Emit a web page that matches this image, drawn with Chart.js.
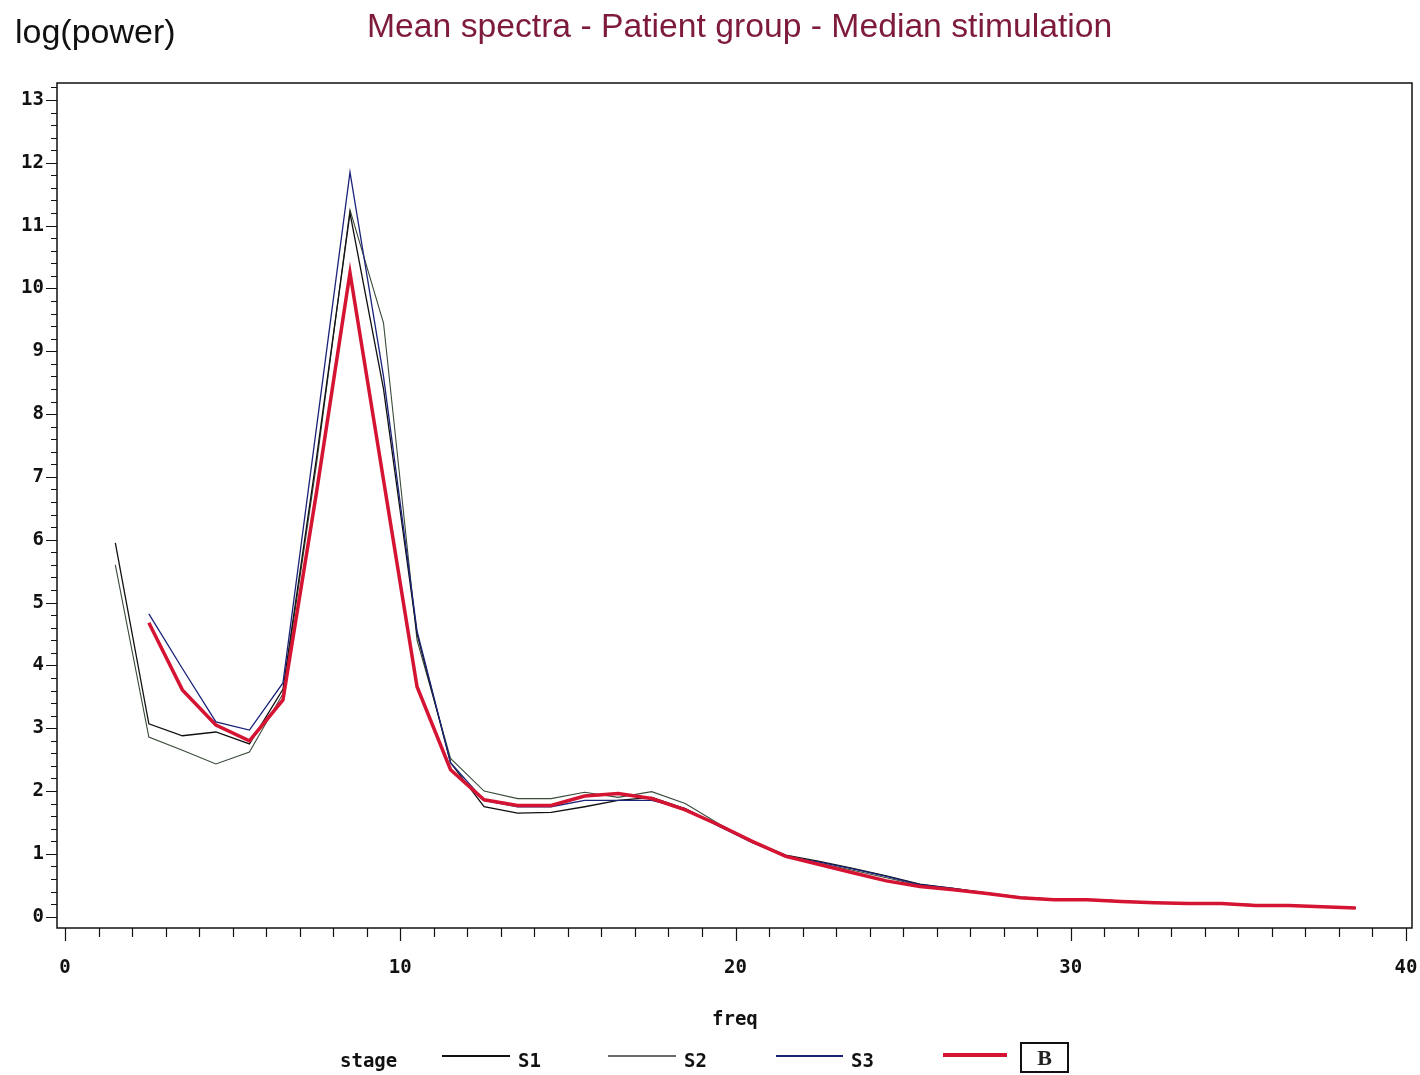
<!DOCTYPE html>
<html>
<head>
<meta charset="utf-8">
<style>
  body { margin: 0; background: #fff; }
  #wrap { position: relative; width: 1420px; height: 1075px; overflow: hidden; }
  #myChart { position: absolute; left: 0; top: 0; }
  .txt { position: absolute; white-space: nowrap; }
  #title { left: 367px; top: 6px; font: 33.7px "Liberation Sans", Arial, sans-serif; color: #7e1a3a; }
  #ylab { left: 15px; top: 12px; font: 34px "Liberation Sans", Arial, sans-serif; color: #111; }
  .sas { font: bold 19px "DejaVu Sans Mono", monospace; color: #111; }
  .leg-line { position: absolute; }
  #bbox { position: absolute; left: 1020px; top: 1042px; width: 45px; height: 27px; border: 2px solid #111;
          font: bold 22px "Liberation Serif", serif; text-align: center; line-height: 27px; color: #222; }
</style>
</head>
<body>
<div id="wrap">
  <canvas id="myChart" width="1420" height="1075"></canvas>
  <div id="title" class="txt">Mean spectra - Patient group - Median stimulation</div>
  <div id="ylab" class="txt">log(power)</div>
  <div class="txt sas" style="left:712px;top:1007px">freq</div>
  <div class="txt sas" style="left:340px;top:1049px">stage</div>
  <div class="leg-line" style="left:442px;top:1055px;width:68px;height:2px;background:#111"></div>
  <div class="txt sas" style="left:518px;top:1049px">S1</div>
  <div class="leg-line" style="left:608px;top:1055px;width:68px;height:2px;background:#6a6a6a"></div>
  <div class="txt sas" style="left:684px;top:1049px">S2</div>
  <div class="leg-line" style="left:776px;top:1055px;width:67px;height:2px;background:#1a2370"></div>
  <div class="txt sas" style="left:851px;top:1049px">S3</div>
  <div class="leg-line" style="left:943px;top:1053px;width:64px;height:4px;background:#d41432"></div>
  <div id="bbox">B</div>
</div>

<script src="https://cdn.jsdelivr.net/npm/chart.js@4.4.0/dist/chart.umd.min.js"></script>
<script>

    // frequency bins (Hz)
    const freq = [1.5, 2.5, 3.5, 4.5, 5.5, 6.5, 7.5, 8.5, 9.5, 10.5, 11.5, 12.5, 13.5, 14.5, 15.5, 16.5, 17.5, 18.5, 19.5,
                  20.5, 21.5, 22.5, 23.5, 24.5, 25.5, 26.5, 27.5, 28.5, 29.5, 30.5, 31.5, 32.5, 33.5, 34.5, 35.5, 36.5, 37.5, 38.5];

    const s1 = [5.95, 3.07, 2.88, 2.94, 2.75, 3.62, 7.3, 11.2, 8.4, 4.5, 2.45, 1.75, 1.65, 1.66, 1.75, 1.85, 1.9, 1.72, 1.45,
                1.2, 0.98, 0.88, 0.77, 0.65, 0.52, 0.45, 0.38, 0.31, 0.28, 0.27, 0.25, 0.22, 0.21, 0.21, 0.18, 0.18, 0.16, 0.14];

    const s2 = [5.6, 2.86, 2.65, 2.43, 2.62, 3.55, 7.2, 11.25, 9.45, 4.4, 2.52, 2.0, 1.88, 1.88, 1.98, 1.9, 1.99, 1.8, 1.48,
                1.2, 0.97, 0.85, 0.74, 0.62, 0.5, 0.44, 0.37, 0.31, 0.27, 0.26, 0.24, 0.22, 0.21, 0.2, 0.18, 0.18, 0.16, 0.14];

    const s3 = [null, 4.82, 3.95, 3.1, 2.97, 3.72, 7.78, 11.85, 8.6, 4.55, 2.45, 1.85, 1.75, 1.75, 1.85, 1.85, 1.85, 1.72, 1.44,
                1.18, 0.96, 0.87, 0.76, 0.64, 0.51, 0.45, 0.37, 0.3, 0.27, 0.27, 0.25, 0.22, 0.21, 0.21, 0.19, 0.18, 0.16, 0.14];

    const b = [null, 4.68, 3.61, 3.05, 2.8, 3.45, 6.75, 10.25, 6.95, 3.66, 2.34, 1.86, 1.77, 1.77, 1.92, 1.96, 1.88, 1.7, 1.46,
               1.2, 0.96, 0.83, 0.7, 0.57, 0.48, 0.43, 0.37, 0.3, 0.27, 0.27, 0.24, 0.22, 0.21, 0.21, 0.18, 0.18, 0.16, 0.14];

    const xTickLabels = [0, 10, 20, 30, 40];
    const yTickLabels = [0, 1, 2, 3, 4, 5, 6, 7, 8, 9, 10, 11, 12, 13];

    function pts(arr) {
        return freq.map((f, i) => ({ x: f, y: arr[i] }));
    }

    function isInt(v) {
        return Math.abs(v - Math.round(v)) < 1e-6;
    }

    // box around the plot + major/minor tick marks
    const frameTicks = {
        id: 'frameTicks',
        afterDraw: (chart) => {
            const {ctx, chartArea, scales} = chart;
            ctx.save();
            ctx.strokeStyle = '#111';
            ctx.lineWidth = 1.5;
            ctx.strokeRect(chartArea.left, chartArea.top, chartArea.right - chartArea.left, chartArea.bottom - chartArea.top);
            ctx.lineWidth = 1.2;
            ctx.beginPath();
            for (let t of scales.y.ticks) {
                const py = Math.round(scales.y.getPixelForValue(t.value)) + 0.5;
                const len = isInt(t.value) ? 11 : 6;
                ctx.moveTo(chartArea.left - len, py);
                ctx.lineTo(chartArea.left, py);
            }
            for (let t of scales.x.ticks) {
                const px = Math.round(scales.x.getPixelForValue(t.value)) + 0.5;
                const len = isInt(t.value / 10) ? 13 : 9;
                ctx.moveTo(px, chartArea.bottom);
                ctx.lineTo(px, chartArea.bottom + len);
            }
            ctx.stroke();
            ctx.restore();
        }
    };

    const tickFont = { family: '"DejaVu Sans Mono", monospace', size: 19, weight: 'bold' };

    const chart = new Chart(document.getElementById('myChart'), {
        type: 'line',
        plugins: [frameTicks],
        data: {
            datasets: [
                { label: 'S1', data: pts(s1), borderColor: '#111111', borderWidth: 1.3, order: 3 },
                { label: 'S2', data: pts(s2), borderColor: '#3a4a3a', borderWidth: 1.1, order: 4 },
                { label: 'S3', data: pts(s3), borderColor: '#1a2378', borderWidth: 1.3, order: 2 },
                { label: 'B', data: pts(b), borderColor: '#d41432', borderWidth: 3.5, order: 1 }
            ]
        },
        options: {
            responsive: false,
            animation: false,
            devicePixelRatio: 1,
            elements: {
                point: { radius: 0 },
                line: { tension: 0 }
            },
            layout: {
                autoPadding: false,
                padding: { left: 0, right: 8, top: 83, bottom: 0 }
            },
            plugins: {
                legend: { display: false },
                tooltip: { enabled: false }
            },
            scales: {
                x: {
                    type: 'linear',
                    min: -0.24,
                    max: 40.18,
                    grid: { display: false, drawTicks: false },
                    border: { display: false },
                    afterFit: (scale) => {
                        scale.height = 147;
                        scale.paddingLeft = 0;
                        scale.paddingRight = 0;
                    },
                    ticks: {
                        stepSize: 1,
                        includeBounds: false,
                        autoSkip: false,
                        maxRotation: 0,
                        padding: 29,
                        color: '#111',
                        font: tickFont,
                        callback: (v) => xTickLabels.includes(Math.round(v)) && isInt(v) ? Math.round(v) : ''
                    }
                },
                y: {
                    min: -0.18,
                    max: 13.27,
                    grid: { display: false, drawTicks: false },
                    border: { display: false },
                    afterFit: (scale) => {
                        scale.width = 57;
                        scale.paddingTop = 0;
                        scale.paddingBottom = 0;
                    },
                    ticks: {
                        stepSize: 0.2,
                        includeBounds: false,
                        autoSkip: false,
                        padding: 13,
                        color: '#111',
                        font: tickFont,
                        callback: (v) => isInt(v) && yTickLabels.includes(Math.round(v)) ? Math.round(v) : ''
                    }
                }
            }
        }
    });
</script>
</body>
</html>
